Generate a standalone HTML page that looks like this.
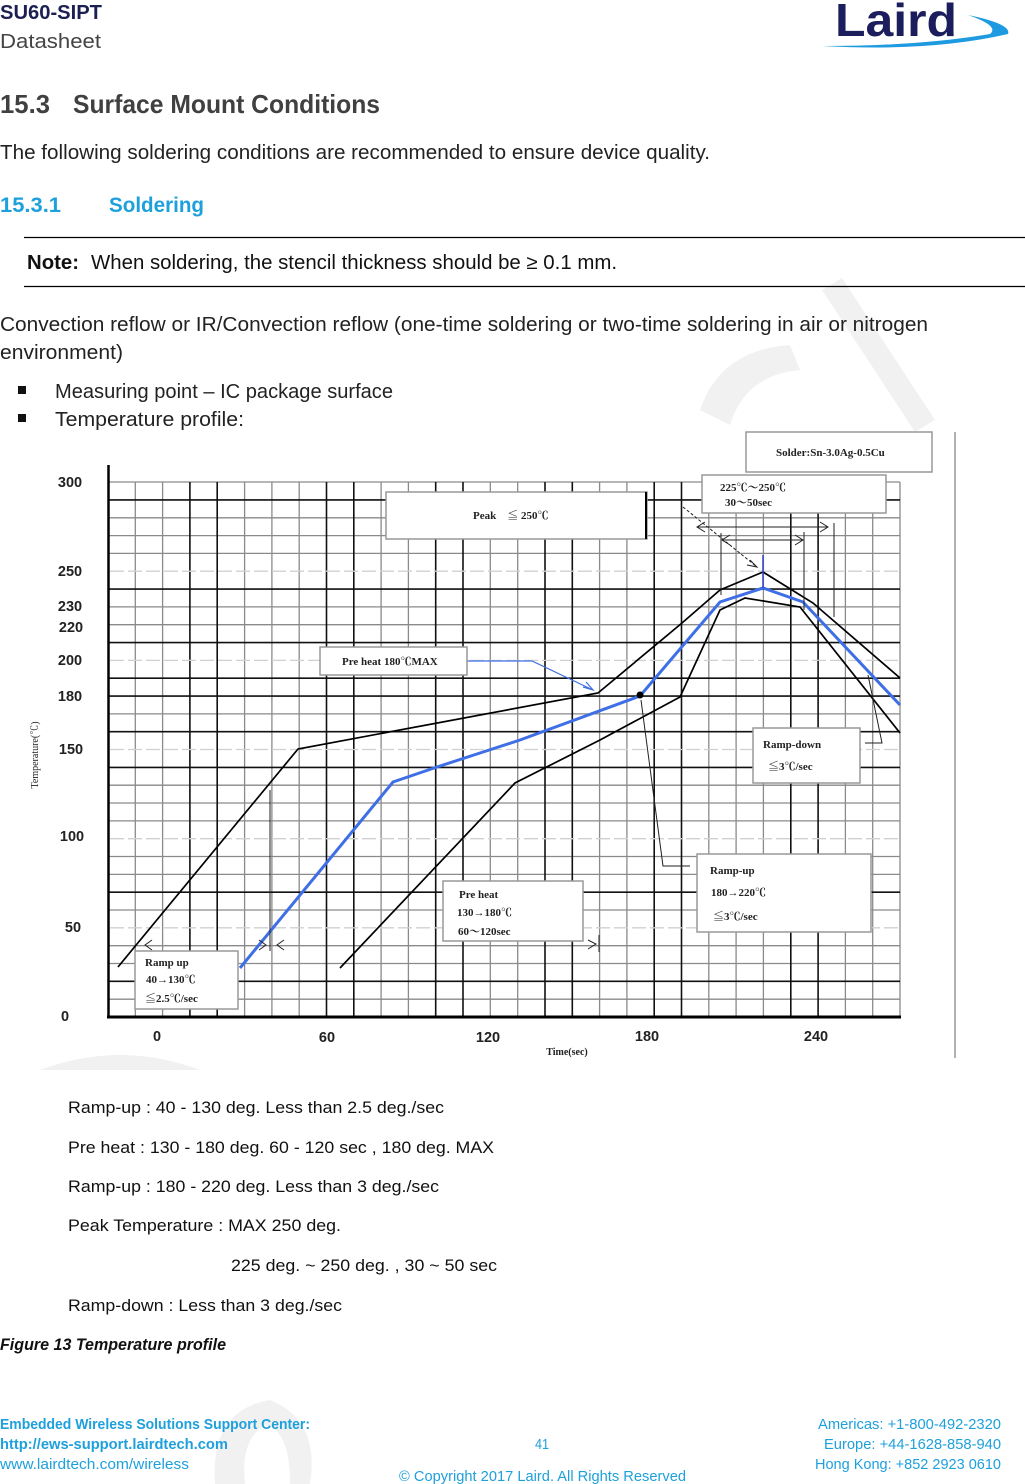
<!DOCTYPE html>
<html><head><meta charset="utf-8"><style>
html,body{margin:0;padding:0;background:#fff;}
svg{display:block;}
.cal{font-family:"Liberation Sans Narrow","Liberation Sans",sans-serif;}
.ar{font-family:"Liberation Sans",sans-serif;}
.ser{font-family:"Liberation Serif","Noto Serif CJK SC",serif;}
</style></head><body>
<svg width="1025" height="1484" viewBox="0 0 1025 1484" xmlns="http://www.w3.org/2000/svg">
<!-- watermark -->
<g fill="#f1f1f1">
<polygon points="822,290 842,278 935,420 915,432"/>
<path d="M700,410 Q720,350 790,345 L800,370 Q745,375 730,425 Z"/>
<path d="M40,1070 Q120,1040 200,1070 Z"/>
<path d="M215,1484 Q210,1410 270,1400 Q320,1420 310,1484 L290,1484 Q290,1430 265,1425 Q240,1440 245,1484Z"/>
</g>
<!-- header -->
<text x="0" y="19" class="cal" font-size="20" font-weight="bold" fill="#1c1f52" textLength="102" lengthAdjust="spacingAndGlyphs">SU60-SIPT</text>
<text x="0" y="48" class="cal" font-size="20" fill="#444" textLength="101" lengthAdjust="spacingAndGlyphs">Datasheet</text>
<text x="835" y="36" class="ar" font-size="46" font-weight="bold" fill="#1b1d5c" textLength="122" lengthAdjust="spacingAndGlyphs">Laird</text>
<path d="M822,46 Q930,52 1008,34 Q1012,24 968,15 Q1000,26 990,34 Q920,46 822,46 Z" fill="#1e9be0"/>
<text x="0" y="113" class="cal" font-size="26" font-weight="bold" fill="#404040" textLength="50" lengthAdjust="spacingAndGlyphs">15.3</text>
<text x="73" y="113" class="cal" font-size="26" font-weight="bold" fill="#404040" textLength="307" lengthAdjust="spacingAndGlyphs">Surface Mount Conditions</text>
<text x="0" y="159" class="cal" font-size="20" fill="#222" textLength="710" lengthAdjust="spacingAndGlyphs">The following soldering conditions are recommended to ensure device quality.</text>
<text x="0" y="212" class="cal" font-size="21" font-weight="bold" fill="#1ea0dc" textLength="61" lengthAdjust="spacingAndGlyphs">15.3.1</text>
<text x="109" y="212" class="cal" font-size="21" font-weight="bold" fill="#1ea0dc" textLength="95" lengthAdjust="spacingAndGlyphs">Soldering</text>
<line x1="24" y1="237.5" x2="1025" y2="237.5" stroke="#000" stroke-width="1.3"/>
<line x1="24" y1="286.5" x2="1025" y2="286.5" stroke="#000" stroke-width="1.3"/>
<text x="27" y="269" class="cal" font-size="20" font-weight="bold" fill="#111" textLength="52" lengthAdjust="spacingAndGlyphs">Note:</text>
<text x="91" y="269" class="cal" font-size="20" fill="#111" textLength="526" lengthAdjust="spacingAndGlyphs">When soldering, the stencil thickness should be ≥ 0.1 mm.</text>
<text x="0" y="331" class="cal" font-size="20" fill="#222" textLength="928" lengthAdjust="spacingAndGlyphs">Convection reflow or IR/Convection reflow (one-time soldering or two-time soldering in air or nitrogen</text>
<text x="0" y="359" class="cal" font-size="20" fill="#222" textLength="123" lengthAdjust="spacingAndGlyphs">environment)</text>
<rect x="18" y="386" width="8" height="8" fill="#111"/>
<rect x="18" y="414" width="8" height="8" fill="#111"/>
<text x="55" y="398" class="cal" font-size="20" fill="#222" textLength="338" lengthAdjust="spacingAndGlyphs">Measuring point – IC package surface</text>
<text x="55" y="426" class="cal" font-size="20" fill="#222" textLength="189" lengthAdjust="spacingAndGlyphs">Temperature profile:</text>

<!-- chart grid -->
<g stroke="#8a8a8a" stroke-width="1.3">
<line x1="108" y1="482" x2="900" y2="482"/>
<line x1="108" y1="517.8" x2="900" y2="517.8"/><line x1="108" y1="535.6" x2="900" y2="535.6"/><line x1="108" y1="553.4" x2="900" y2="553.4"/>
<line x1="108" y1="606.9" x2="900" y2="606.9"/><line x1="108" y1="624.7" x2="900" y2="624.7"/>
<line x1="108" y1="713.9" x2="900" y2="713.9"/><line x1="108" y1="785.2" x2="900" y2="785.2"/><line x1="108" y1="803" x2="900" y2="803"/><line x1="108" y1="820.9" x2="900" y2="820.9"/>
<line x1="108" y1="856.5" x2="900" y2="856.5"/><line x1="108" y1="874.4" x2="900" y2="874.4"/><line x1="108" y1="910" x2="900" y2="910"/><line x1="108" y1="945.7" x2="900" y2="945.7"/><line x1="108" y1="963.5" x2="900" y2="963.5"/><line x1="108" y1="999.2" x2="900" y2="999.2"/>
<line x1="135.3" y1="482" x2="135.3" y2="1017"/><line x1="162.6" y1="482" x2="162.6" y2="1017"/><line x1="244.6" y1="482" x2="244.6" y2="1017"/><line x1="271.9" y1="482" x2="271.9" y2="1017"/><line x1="299.2" y1="482" x2="299.2" y2="1017"/>
<line x1="381.1" y1="482" x2="381.1" y2="1017"/><line x1="408.4" y1="482" x2="408.4" y2="1017"/><line x1="490.3" y1="482" x2="490.3" y2="1017"/><line x1="517.7" y1="482" x2="517.7" y2="1017"/>
<line x1="599.6" y1="482" x2="599.6" y2="1017"/><line x1="626.9" y1="482" x2="626.9" y2="1017"/><line x1="708.8" y1="482" x2="708.8" y2="1017"/><line x1="736.1" y1="482" x2="736.1" y2="1017"/><line x1="763.4" y1="482" x2="763.4" y2="1017"/>
<line x1="845.4" y1="482" x2="845.4" y2="1017"/><line x1="872.7" y1="482" x2="872.7" y2="1017"/><line x1="900" y1="482" x2="900" y2="1017"/>
</g>
<g stroke="#111" stroke-width="1.6">
<line x1="108" y1="499.9" x2="900" y2="499.9"/><line x1="108" y1="589.1" x2="900" y2="589.1"/><line x1="108" y1="642.6" x2="900" y2="642.6"/><line x1="108" y1="678.2" x2="900" y2="678.2"/><line x1="108" y1="696.1" x2="900" y2="696.1"/><line x1="108" y1="731.7" x2="900" y2="731.7"/><line x1="108" y1="767.4" x2="900" y2="767.4"/><line x1="108" y1="892.2" x2="900" y2="892.2"/><line x1="108" y1="981.3" x2="900" y2="981.3"/>
<line x1="189.9" y1="482" x2="189.9" y2="1017"/><line x1="217.2" y1="482" x2="217.2" y2="1017"/><line x1="326.5" y1="482" x2="326.5" y2="1017"/><line x1="353.8" y1="482" x2="353.8" y2="1017"/><line x1="435.7" y1="482" x2="435.7" y2="1017"/><line x1="463" y1="482" x2="463" y2="1017"/><line x1="545" y1="482" x2="545" y2="1017"/><line x1="572.3" y1="482" x2="572.3" y2="1017"/><line x1="654.2" y1="482" x2="654.2" y2="1017"/><line x1="681.5" y1="482" x2="681.5" y2="1017"/><line x1="790.8" y1="482" x2="790.8" y2="1017"/><line x1="818.1" y1="482" x2="818.1" y2="1017"/>
</g>
<g stroke="#d0d0d0" stroke-width="1.3" stroke-dasharray="14 4">
<line x1="110" y1="571.2" x2="900" y2="571.2"/><line x1="110" y1="660.4" x2="900" y2="660.4"/><line x1="110" y1="749.5" x2="900" y2="749.5"/><line x1="110" y1="838.7" x2="900" y2="838.7"/><line x1="110" y1="927.8" x2="900" y2="927.8"/>
</g>
<line x1="108.5" y1="465" x2="108.5" y2="1018" stroke="#000" stroke-width="2.5"/>
<line x1="107" y1="1017" x2="901" y2="1017" stroke="#000" stroke-width="3"/>
<line x1="955" y1="432" x2="955" y2="1058" stroke="#999" stroke-width="1.5"/>

<!-- axis labels -->
<g class="ar" font-size="14.5" font-weight="bold" fill="#222" text-anchor="middle">
<text x="70" y="487">300</text><text x="70" y="576">250</text><text x="70" y="611">230</text><text x="71" y="632">220</text><text x="70" y="665">200</text><text x="70" y="701">180</text><text x="71" y="754">150</text><text x="72" y="841">100</text><text x="73" y="932">50</text><text x="65" y="1021">0</text>
<text x="157" y="1041">0</text><text x="327" y="1042">60</text><text x="488" y="1042">120</text><text x="647" y="1041">180</text><text x="816" y="1041">240</text>
</g>
<text x="567" y="1055" class="ser" font-size="10" font-weight="bold" fill="#222" text-anchor="middle">Time(sec)</text>
<text transform="translate(38,755) rotate(-90)" class="ser" font-size="10" fill="#222" text-anchor="middle">Temperature(℃)</text>

<!-- curves -->
<g fill="none" stroke="#000" stroke-width="1.7">
<polyline points="118,967 298,749 598,693 682,623 720,590 763,572 813,603 900,678"/>
<polyline points="340,968 515,783 600,740 680,697 720,610 745,598 800,607 900,733"/>
</g>
<polyline points="240,968 393,782 437,767 480,753 520,740 640,696 720,602 763,588 803,602 900,705" fill="none" stroke="#3f6fe6" stroke-width="3"/>
<circle cx="640" cy="695" r="3.5" fill="#000"/>
<line x1="763" y1="555" x2="763" y2="588" stroke="#3344cc" stroke-width="1.5"/>
<!-- annotation lines -->
<g fill="none" stroke="#222" stroke-width="1">
<line x1="683" y1="507" x2="757" y2="567" stroke-dasharray="3 2"/>
<polyline points="750,560 757,567 747,565"/>
<line x1="697" y1="527" x2="827" y2="527"/><polyline points="705,522 697,527 705,532"/><polyline points="820,522 828,527 820,532"/>
<line x1="722" y1="540" x2="803" y2="540"/><polyline points="730,535 722,540 730,545"/><polyline points="795,535 803,540 795,545"/>
<line x1="721" y1="533" x2="721" y2="595"/><line x1="804" y1="532" x2="804" y2="610"/><line x1="834" y1="523" x2="834" y2="617"/>
<polyline points="641,700 663,866 690,866"/>
<polyline points="865,743 882,743 868,675"/>
<line x1="270" y1="790" x2="270" y2="951"/>
<polyline points="152,940 145,945 152,950"/><polyline points="259,940 266,945 259,950"/><polyline points="284,940 277,945 284,950"/>
<polyline points="588,940 596,944 588,949"/><line x1="599" y1="935" x2="599" y2="952"/>
</g>
<polyline points="467,661 532,661 593,690" fill="none" stroke="#3f6fe6" stroke-width="1.2"/>
<polyline points="583,687 593,690 586,682" fill="none" stroke="#3f6fe6" stroke-width="1.2"/>

<!-- boxes -->
<g fill="#fff" stroke="#999" stroke-width="1.5">
<rect x="746" y="432" width="186" height="40"/>
<rect x="702" y="475" width="184" height="38"/>
<rect x="386" y="492" width="261" height="47"/>
<rect x="320" y="647" width="147" height="28"/>
<rect x="753" y="728" width="107" height="55"/>
<rect x="697" y="854" width="174" height="78"/>
<rect x="443" y="881" width="140" height="60"/>
<rect x="135" y="951" width="103" height="58"/>
</g>
<line x1="646" y1="492" x2="646" y2="539" stroke="#000" stroke-width="2"/>
<g class="ser" font-size="11" fill="#222" font-weight="bold">
<text x="776" y="456">Solder:Sn-3.0Ag-0.5Cu</text>
<text x="720" y="491">225℃～250℃</text>
<text x="725" y="506">30～50sec</text>
<text x="473" y="519">Peak　≦ 250℃</text>
<text x="342" y="665">Pre heat 180℃MAX</text>
<text x="763" y="748">Ramp-down</text>
<text x="768" y="770">≦3℃/sec</text>
<text x="710" y="874">Ramp-up</text>
<text x="711" y="896">180→220℃</text>
<text x="713" y="920">≦3℃/sec</text>
<text x="459" y="898">Pre heat</text>
<text x="457" y="916">130→180℃</text>
<text x="458" y="935">60～120sec</text>
<text x="145" y="966">Ramp up</text>
<text x="146" y="983">40→130℃</text>
<text x="145" y="1002">≦2.5℃/sec</text>
</g>

<!-- description -->
<g class="ar" font-size="17" fill="#111">
<text x="68" y="1113" textLength="376" lengthAdjust="spacingAndGlyphs">Ramp-up : 40 - 130 deg. Less than 2.5 deg./sec</text>
<text x="68" y="1153" textLength="426" lengthAdjust="spacingAndGlyphs">Pre heat : 130 - 180 deg. 60 - 120 sec , 180 deg. MAX</text>
<text x="68" y="1192" textLength="371" lengthAdjust="spacingAndGlyphs">Ramp-up : 180 - 220 deg. Less than 3 deg./sec</text>
<text x="68" y="1231" textLength="273" lengthAdjust="spacingAndGlyphs">Peak Temperature : MAX 250 deg.</text>
<text x="231" y="1271" textLength="266" lengthAdjust="spacingAndGlyphs">225 deg. ~ 250 deg. , 30 ~ 50 sec</text>
<text x="68" y="1311" textLength="274" lengthAdjust="spacingAndGlyphs">Ramp-down : Less than 3 deg./sec</text>
</g>
<text x="0" y="1350" class="cal" font-size="17" font-weight="bold" font-style="italic" fill="#111" textLength="226" lengthAdjust="spacingAndGlyphs">Figure 13 Temperature profile</text>

<!-- footer -->
<g class="cal" font-size="15" fill="#1ea0dc">
<text x="0" y="1429" font-weight="bold" textLength="310" lengthAdjust="spacingAndGlyphs">Embedded Wireless Solutions Support Center:</text>
<text x="0" y="1449" font-weight="bold" textLength="228" lengthAdjust="spacingAndGlyphs">http://ews-support.lairdtech.com</text>
<text x="0" y="1469" textLength="189" lengthAdjust="spacingAndGlyphs">www.lairdtech.com/wireless</text>
<text x="535" y="1449" textLength="14" lengthAdjust="spacingAndGlyphs">41</text>
<text x="399" y="1481" textLength="287" lengthAdjust="spacingAndGlyphs">© Copyright 2017 Laird. All Rights Reserved</text>
<text x="1001" y="1429" text-anchor="end" textLength="183" lengthAdjust="spacingAndGlyphs">Americas: +1-800-492-2320</text>
<text x="1001" y="1449" text-anchor="end" textLength="177" lengthAdjust="spacingAndGlyphs">Europe: +44-1628-858-940</text>
<text x="1001" y="1469" text-anchor="end" textLength="186" lengthAdjust="spacingAndGlyphs">Hong Kong: +852 2923 0610</text>
</g>
</svg>
</body></html>
